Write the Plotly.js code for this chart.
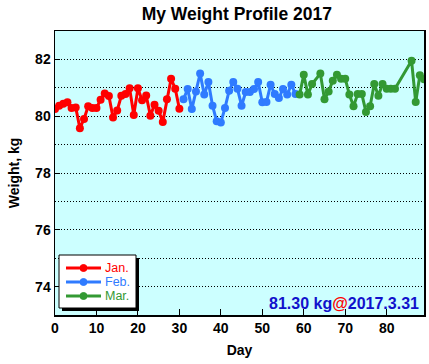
<!DOCTYPE html>
<html>
<head>
<meta charset="utf-8">
<script src="https://cdn.plot.ly/plotly-3.0.1.min.js"></script>
<style>html,body{margin:0;padding:0;background:#fff;}#chart{width:429px;height:364px;}</style>
</head>
<body>
<div id="chart"></div>
<script>
// ---- data ----
var janDays = [0,1,2,3,4,5,6,7,8,9,10,11,12,13,14,15,16,17,18,19,20,21,22,23,24,25,26,27,28,29,30];
var janWeight = [80.25,80.37,80.44,80.49,80.29,80.31,79.58,79.90,80.35,80.29,80.29,80.58,80.80,80.71,79.95,80.20,80.72,80.78,80.98,80.04,80.98,80.56,80.73,80.02,80.40,80.19,79.80,80.60,81.32,80.97,80.26];
var febDays = [31,32,33,34,35,36,37,38,39,40,41,42,43,44,45,46,47,48,49,50,51,52,53,54,55,56,57,58];
var febWeight = [80.60,80.96,80.25,80.87,81.50,80.76,81.20,80.37,79.82,79.78,80.29,80.90,81.20,80.97,80.37,80.85,80.85,80.96,81.20,80.49,80.50,81.11,80.78,80.64,80.96,80.76,81.11,80.78];
var marDays = [59,60,61,62,64,65,66,67,68,69,70,71,72,73,74,75,76,77,78,79,80,81,82,86,87,88,89];
var marWeight = [80.76,81.46,80.76,81.13,81.50,80.60,80.87,81.25,81.46,81.32,81.32,80.76,80.35,80.78,80.78,80.15,80.35,81.13,80.72,81.13,80.97,80.97,80.97,81.95,80.50,81.44,81.30];
var seriesNames = ["Jan.","Feb.","Mar."];
var seriesColors = ["#ff0000","#2f7bff","#339933"];
var lastLabel = "81.30 kg";
var lastDate = "2017.3.31";

var FONT = "Liberation Sans, Arial, sans-serif";
var W = 429, H = 364, M = {l: 55, r: 5, t: 31, b: 49};
var PW = W - M.l - M.r, PH = H - M.t - M.b;
function px(p){ return (p - M.l) / PW; }
function py(p){ return (H - M.b - p) / PH; }

var xs = [janDays, febDays, marDays];
var ys = [janWeight, febWeight, marWeight];
var traces = xs.map(function(x, i){
  return {
    x: x, y: ys[i], type: "scatter", mode: "lines+markers",
    name: seriesNames[i], showlegend: false,
    line: {color: seriesColors[i], width: 3},
    marker: {color: seriesColors[i], size: 8}
  };
});

// ---- legend box drawn as layout decorations (pixel geometry) ----
var LG = {x0: 59, x1: 136, y0: 255, y1: 308, shadow: 3, row0: 268, rowStep: 14, lineX0: 66, lineX1: 101, textX: 104, dot: 3.5};
var shapes = [
  {type: "rect", xref: "paper", yref: "paper", layer: "above",
   x0: px(LG.x0 + LG.shadow), x1: px(LG.x1 + LG.shadow), y0: py(LG.y1 + LG.shadow), y1: py(LG.y0 + LG.shadow),
   fillcolor: "#000", line: {width: 0}},
  {type: "rect", xref: "paper", yref: "paper", layer: "above",
   x0: px(LG.x0), x1: px(LG.x1), y0: py(LG.y1), y1: py(LG.y0),
   fillcolor: "#fff", line: {color: "#000", width: 1}}
];
var annotations = [];
seriesNames.forEach(function(n, i){
  var yy = LG.row0 + i * LG.rowStep;
  var cx = (LG.lineX0 + LG.lineX1) / 2;
  shapes.push({type: "line", xref: "paper", yref: "paper", layer: "above",
    x0: px(LG.lineX0), x1: px(LG.lineX1), y0: py(yy), y1: py(yy),
    line: {color: seriesColors[i], width: 3}});
  shapes.push({type: "circle", xref: "paper", yref: "paper", layer: "above",
    x0: px(cx - LG.dot), x1: px(cx + LG.dot), y0: py(yy + LG.dot), y1: py(yy - LG.dot),
    fillcolor: seriesColors[i], line: {color: seriesColors[i], width: 1}});
  annotations.push({xref: "paper", yref: "paper", x: px(LG.textX), y: py(yy), xanchor: "left", yanchor: "middle",
    showarrow: false, borderpad: 0, text: n, font: {family: FONT, size: 12.5, color: seriesColors[i]}});
});
annotations.push({
  xref: "paper", yref: "paper", x: 0.992, y: 0.004, xanchor: "right", yanchor: "bottom",
  showarrow: false,
  text: "<b>" + lastLabel + "<span style='color:#ff0000'>@</span>" + lastDate + "</b>",
  font: {family: FONT, size: 16, color: "#1111cc"}
});

var layout = {
  width: W, height: H,
  margin: M,
  paper_bgcolor: "#ffffff",
  plot_bgcolor: "#ccffff",
  showlegend: false,
  title: {text: "<b>My Weight Profile 2017</b>", font: {family: FONT, size: 17.5, color: "#000"}, x: 0.552, xanchor: "center", y: 0.962, yanchor: "middle"},
  xaxis: {
    range: [0, 89], tickmode: "linear", tick0: 0, dtick: 10,
    ticks: "inside", ticklen: 6, tickwidth: 1, tickcolor: "#000",
    showgrid: false, zeroline: false,
    showline: true, linecolor: "#000", linewidth: 1.5, mirror: true,
    tickfont: {family: FONT, size: 14, color: "#000", weight: "bold"},
    title: {text: "<b>Day</b>", font: {family: FONT, size: 14, color: "#000"}, standoff: 10}
  },
  yaxis: {
    range: [73, 83], tickmode: "linear", tick0: 74, dtick: 2,
    ticks: "inside", ticklen: 5, tickwidth: 1, tickcolor: "#000",
    showgrid: true, gridcolor: "#000", griddash: "1px,2px", gridwidth: 1,
    minor: {dtick: 1, tick0: 73, showgrid: true, gridcolor: "#000", griddash: "1px,2px", gridwidth: 1, ticks: ""},
    zeroline: false,
    showline: true, linecolor: "#000", linewidth: 1.5, mirror: true,
    tickfont: {family: FONT, size: 14, color: "#000", weight: "bold"},
    title: {text: "<b>Weight, kg</b>", font: {family: FONT, size: 14, color: "#000"}, standoff: 12}
  },
  shapes: shapes,
  annotations: annotations
};

Plotly.newPlot("chart", traces, layout, {displayModeBar: false, staticPlot: true});
</script>
</body>
</html>
